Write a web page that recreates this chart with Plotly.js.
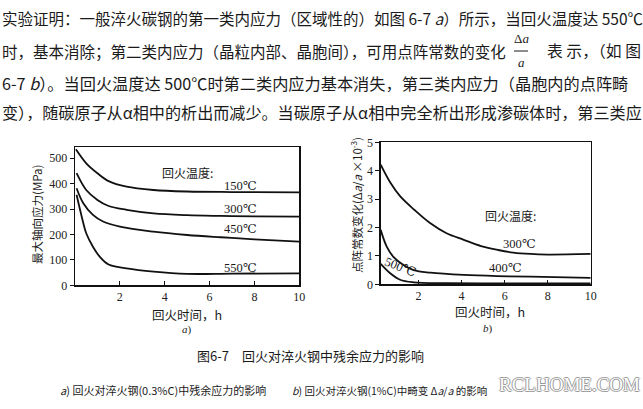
<!DOCTYPE html>
<html>
<head>
<meta charset="utf-8">
<script src="https://cdn.plot.ly/plotly-3.0.1.min.js"></script>
<style>html,body{margin:0;padding:0;background:#fff;}#chart{width:643px;height:409px;}</style>
</head>
<body>
<div id="chart"></div>
<script>
// ---- Chart a): 回火对淬火钢(0.3%C)中残余应力的影响 ----
const tA150 = [0.04, 0.5, 1.0, 1.5, 2.3, 3.5, 5.0, 7.0, 10.0];
const vA150 = [535, 480, 441, 410, 388, 375, 369, 367, 366];
const tA300 = [0.07, 0.5, 1.0, 1.5, 2.3, 3.5, 5.0, 6.5, 8.0, 10.0];
const vA300 = [441, 375, 336, 312, 297, 283, 276, 273, 271, 270];
const tA450 = [0.07, 0.37, 0.8, 1.25, 2.0, 3.5, 5.0, 6.5, 8.0, 10.0];
const vA450 = [382, 323, 277, 251, 231, 211, 198, 189, 181, 172];
const tA550 = [0.07, 0.3, 0.5, 0.8, 1.1, 1.5, 2.3, 3.5, 5.0, 7.0, 10.0];
const vA550 = [356, 270, 205, 152, 113, 82, 67, 54, 45, 46, 47];
const labelsA = ["150℃", "300℃", "450℃", "550℃"];
const labelPosA = [[7.4, 391], [7.4, 300], [7.4, 222], [7.4, 68]];
const ticksAx = [2, 4, 6, 8, 10];
const ticksAy = [0, 100, 200, 300, 400, 500];

// ---- Chart b): 回火对淬火钢(1%C)中畸变 Δa/a 的影响 ----
const tB300 = [0.24, 0.7, 1.15, 1.8, 2.55, 3.3, 4.1, 4.9, 5.7, 6.4, 7.2, 8.0, 10.0];
const vB300 = [4.22, 3.57, 3.10, 2.63, 2.15, 1.80, 1.57, 1.35, 1.21, 1.12, 1.07, 1.05, 1.07];
const tB400 = [0.24, 0.52, 0.83, 1.3, 1.77, 2.55, 4.1, 5.66, 7.2, 10.0];
const vB400 = [1.92, 1.33, 0.97, 0.68, 0.50, 0.41, 0.33, 0.29, 0.27, 0.23];
const tB500 = [0.24, 0.68, 1.14, 1.77, 3.3, 5.0, 7.0, 10.0];
const vB500 = [0.72, 0.39, 0.16, 0.07, 0.04, 0.03, 0.03, 0.03];
const labelsB = ["300℃", "400℃", "500℃"];
const labelPosB = [[6.7, 1.42], [6.05, 0.58], [1.14, 0.61]];
const ticksBx = [2, 4, 6, 8, 10];
const ticksBy = [0, 1, 2, 3, 4, 5];

const serif = "Liberation Serif, DejaVu Serif, serif";
const cjk = "Noto Sans CJK SC, sans-serif";

function line(x, y, xa, ya) {
  return {x: x, y: y, xaxis: xa, yaxis: ya, type: "scatter", mode: "lines",
    line: {color: "#111", width: 1.8, shape: "spline", smoothing: 1.0},
    hoverinfo: "skip", showlegend: false};
}
const traces = [
  line(tA150, vA150, "x", "y"), line(tA300, vA300, "x", "y"),
  line(tA450, vA450, "x", "y"), line(tA550, vA550, "x", "y"),
  line(tB300, vB300, "x2", "y2"), line(tB400, vB400, "x2", "y2"),
  line(tB500, vB500, "x2", "y2")
];

const W = 643, H = 409;
const px = v => v / W, py = v => 1 - v / H;

const axisCommon = {showgrid: false, zeroline: false, showline: true, mirror: true,
  linecolor: "#111", linewidth: 1.3, tickcolor: "#111", ticklen: 4, tickwidth: 1,
  tickfont: {family: serif, size: 12, color: "#222"}, fixedrange: true};

const ann = [];
function txt(text, x, y, size, opts) {
  const base = {text: text, x: px(x), y: py(y), xref: "paper", yref: "paper",
    showarrow: false, xanchor: "center", yanchor: "middle",
    font: {family: cjk, size: size, color: "#1a1a1a"}};
  const o = Object.assign({}, opts || {});
  if (o.font) { o.font = Object.assign({}, base.font, o.font); }
  ann.push(Object.assign(base, o));
}
// paragraph text
txt("实验证明：一般淬火碳钢的第一类内应力（区域性的）如图 6-7 <i>a</i>）所示，当回火温度达 550℃", 0, 18, 15.5, {xanchor: "left"});
txt("时，基本消除；第二类内应力（晶粒内部、晶胞间），可用点阵常数的变化", 0, 51, 15.5, {xanchor: "left"});
txt("Δ<i>a</i>", 521, 39, 13, {font: {family: serif}});
txt("<i>a</i>", 521, 63, 13, {font: {family: serif}});
txt("表 示，（如 图", 643, 51, 15.8, {xanchor: "right"});
txt("6-7 <i>b</i>）。当回火温度达 500℃时第二类内应力基本消失，第三类内应力（晶胞内的点阵畸", 0, 83, 16.2, {xanchor: "left"});
txt("变），随碳原子从α相中的析出而减少。当碳原子从α相中完全析出形成渗碳体时，第三类应", 0, 112, 16.1, {xanchor: "left"});

// chart a labels
labelsA.forEach((s, i) => ann.push({text: s, x: labelPosA[i][0], y: labelPosA[i][1], xref: "x", yref: "y",
  showarrow: false, font: {family: serif, size: 12.5, color: "#1a1a1a"}}));
ann.push({text: "回火温度:", x: 5.0, y: 442, xref: "x", yref: "y", showarrow: false,
  font: {family: cjk, size: 12, color: "#1a1a1a"}});
// chart b labels
labelsB.forEach((s, i) => ann.push({text: s, x: labelPosB[i][0], y: labelPosB[i][1], xref: "x2", yref: "y2",
  showarrow: false, textangle: i === 2 ? 22 : 0, font: {family: serif, size: 12.5, color: "#1a1a1a"}}));
ann.push({text: "回火温度:", x: 6.28, y: 2.41, xref: "x2", yref: "y2", showarrow: false,
  font: {family: cjk, size: 12, color: "#1a1a1a"}});

// axis titles
txt("最大轴向应力(MPa)", 37, 215, 11.5, {textangle: -90});
txt("点阵常数变化(Δ<i>a</i>/<i>a</i> ×10<sup>-3</sup>)", 356, 205, 11.5, {textangle: -90});
txt("回火时间，h", 187, 314, 12.5);
txt("回火时间，h", 490, 311, 12.5);
txt("<i>a</i>)", 187, 329, 11, {font: {family: serif}});
txt("<i>b</i>)", 488, 328, 11, {font: {family: serif}});

// captions
txt("图6-7　回火对淬火钢中残余应力的影响", 310, 355, 13);
txt("<i>a</i>) 回火对淬火钢(0.3%C)中残余应力的影响", 58, 390, 11, {xanchor: "left"});
txt("<i>b</i>) 回火对淬火钢(1%C)中畸变 Δ<i>a</i>/<i>a</i> 的影响", 290, 390, 10.5, {xanchor: "left"});
// watermark
txt("RCLHOME.COM", 569, 384, 19, {font: {family: serif, color: "#ffffff",
  shadow: "1px 0 0 #999, -1px 0 0 #999, 0 1px 0 #999, 0 -1px 0 #999"}});

const layout = {
  width: W, height: H, margin: {l: 0, r: 0, t: 0, b: 0},
  paper_bgcolor: "#fff", plot_bgcolor: "#fff", showlegend: false,
  xaxis: Object.assign({}, axisCommon, {domain: [px(75), px(299.3)], range: [0, 10], tickvals: ticksAx, ticks: "inside", anchor: "y"}),
  yaxis: Object.assign({}, axisCommon, {domain: [py(285.3), py(147.3)], range: [0, 543], tickvals: ticksAy, ticks: "outside", anchor: "x"}),
  xaxis2: Object.assign({}, axisCommon, {domain: [px(380.7), px(590.7)], range: [0.24, 10], tickvals: ticksBx, ticks: "inside", anchor: "y2"}),
  yaxis2: Object.assign({}, axisCommon, {domain: [py(284.3), py(142)], range: [0, 5.02], tickvals: ticksBy, ticks: "outside", anchor: "x2"}),
  annotations: ann,
  shapes: [{type: "line", xref: "paper", yref: "paper", x0: px(514), x1: px(528), y0: py(51), y1: py(51),
    line: {color: "#1a1a1a", width: 1}}]
};

Plotly.newPlot("chart", traces, layout, {staticPlot: true, displayModeBar: false});
</script>
</body>
</html>
